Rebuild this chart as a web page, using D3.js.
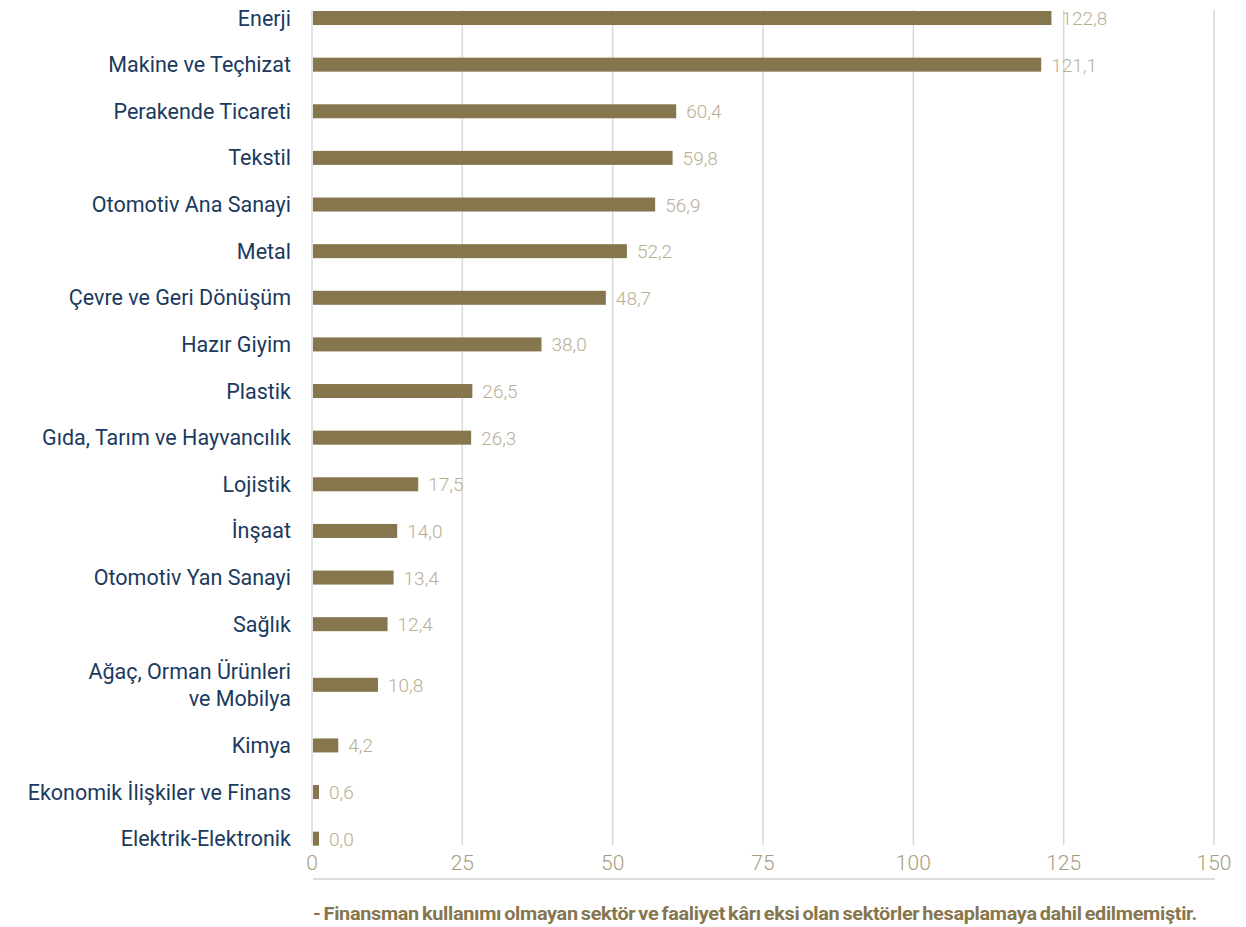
<!DOCTYPE html>
<html>
<head>
<meta charset="utf-8">
<script src="https://cdn.jsdelivr.net/npm/d3@7"></script>
<style>
  body { margin: 0; background: #fff; }
  svg { display: block; }
</style>
</head>
<body>
<div id="chart"></div>
<script>
// Data
const sectors = [
    "Enerji", "Makine ve Teçhizat", "Perakende Ticareti", "Tekstil",
    "Otomotiv Ana Sanayi", "Metal", "Çevre ve Geri Dönüşüm", "Hazır Giyim",
    "Plastik", "Gıda, Tarım ve Hayvancılık", "Lojistik", "İnşaat",
    "Otomotiv Yan Sanayi", "Sağlık", "Ağaç, Orman Ürünleri\nve Mobilya",
    "Kimya", "Ekonomik İlişkiler ve Finans", "Elektrik-Elektronik"
];
const values = [122.8, 121.1, 60.4, 59.8, 56.9, 52.2, 48.7, 38.0, 26.5, 26.3, 17.5, 14.0, 13.4, 12.4, 10.8, 4.2, 0.6, 0.0];
const xTicks = [0, 25, 50, 75, 100, 125, 150];
const footnote = "- Finansman kullanımı olmayan sektör ve faaliyet kârı eksi olan sektörler hesaplamaya dahil edilmemiştir.";

const W = 1246, H = 927;
const barColor = "#86764e";
const labelColor = "#1b3a5e";
const valueColor = "#b9ae94";
const tickColor = "#a99c7e";

const svg = d3.select("#chart").append("svg")
    .attr("width", W)
    .attr("height", H);

const x = d3.scaleLinear().domain([0, 150]).range([313, 1215]);

// rows with two-line labels get a taller band
const rows = sectors.map((s, i) => ({ name: s, value: values[i], lines: s.split("\n") }));
let acc = 0;
rows.forEach(r => {
    r.w = r.lines.length > 1 ? 1.6 : 1;
    r.start = acc;
    acc += r.w;
});
const y = d3.scaleLinear().domain([0, acc]).range([-5.3, 862]);
rows.forEach(r => { r.cy = y(r.start + r.w / 2); });

// Gridlines
svg.append("g")
    .selectAll("line")
    .data(xTicks)
    .enter()
    .append("line")
    .attr("x1", d => x(d) - 1)
    .attr("x2", d => x(d) - 1)
    .attr("y1", 10)
    .attr("y2", 845)
    .attr("stroke", "#d9d9d9")
    .attr("stroke-width", 1.5);

// Tick labels
svg.append("g")
    .selectAll("text")
    .data(xTicks)
    .enter()
    .append("text")
    .attr("x", d => x(d) - 1)
    .attr("y", 870)
    .attr("text-anchor", "middle")
    .style("font-family", "Roboto, sans-serif")
    .style("font-weight", 300)
    .style("font-size", "21px")
    .style("fill", tickColor)
    .text(d => d);

// bottom rule
svg.append("line")
    .attr("x1", x(0))
    .attr("x2", x(150))
    .attr("y1", 879)
    .attr("y2", 879)
    .attr("stroke", "#bdbdbd")
    .attr("stroke-width", 1);

// Bars
svg.append("g")
    .selectAll("rect")
    .data(rows)
    .enter()
    .append("rect")
    .attr("x", x(0))
    .attr("y", d => d.cy - 7)
    .attr("height", 14)
    .attr("width", d => Math.max(x(d.value) - x(0), 6))
    .attr("fill", barColor);

// Value labels
svg.append("g")
    .selectAll("text")
    .data(rows)
    .enter()
    .append("text")
    .attr("x", d => x(0) + Math.max(x(d.value) - x(0), 6) + 10)
    .attr("y", d => d.cy + 7)
    .style("font-family", "Roboto, sans-serif")
    .style("font-weight", 300)
    .style("font-size", "19px")
    .style("fill", valueColor)
    .text(d => d.value.toFixed(1).replace(".", ","));

// Category labels
const cat = svg.append("g")
    .selectAll("text")
    .data(rows)
    .enter()
    .append("text")
    .attr("text-anchor", "end")
    .style("font-family", "Roboto, sans-serif")
    .style("font-size", "21.5px")
    .style("fill", labelColor);

cat.selectAll("tspan")
    .data(d => d.lines.map((l, i) => ({ l, i, n: d.lines.length, cy: d.cy })))
    .enter()
    .append("tspan")
    .attr("x", 291)
    .attr("y", d => d.cy + 7.5 + (d.i - (d.n - 1) / 2) * 27)
    .text(d => d.l);

// Footnote
svg.append("text")
    .attr("x", 313)
    .attr("y", 920)
    .attr("textLength", 884)
    .attr("lengthAdjust", "spacingAndGlyphs")
    .style("font-family", "Roboto, sans-serif")
    .style("font-weight", 700)
    .style("font-size", "19px")
    .style("word-spacing", "-1.5px")
    .style("letter-spacing", "-0.3px")
    .style("fill", barColor)
    .text(footnote);
</script>
</body>
</html>
